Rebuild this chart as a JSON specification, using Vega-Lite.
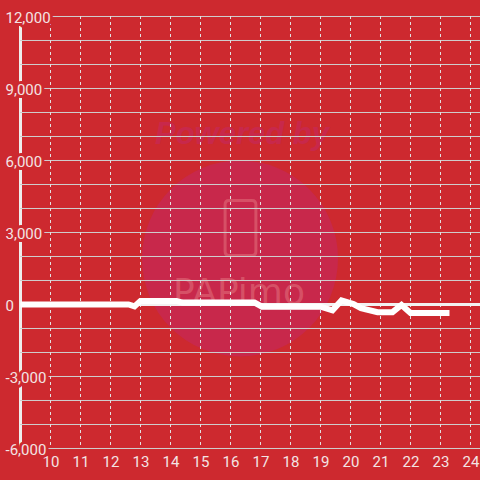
{
  "$schema": "https://vega.github.io/schema/vega-lite/v6.json",
  "width": 460,
  "height": 432,
  "autosize": {"type": "none"},
  "padding": {"left": 20, "top": 16, "right": 0, "bottom": 32},
  "background": "#CD292F",
  "config": {
    "view": {"stroke": null},
    "axis": {"grid": false, "ticks": false, "title": null},
    "axisX": {"domain": false, "labelFont": "Roboto", "labelFontSize": 15, "labelColor": "#F3E4E4", "labelPadding": 6, "labelFlush": false, "labelOverlap": false},
    "axisY": {"labels": false, "domain": true, "domainColor": "#EEEEEE", "domainWidth": 3}
  },
  "datasets": {
    "series": [
      {"h": 9.0, "v": 0},
      {"h": 12.6, "v": 0},
      {"h": 12.8, "v": -80},
      {"h": 13.0, "v": 150},
      {"h": 14.2, "v": 150},
      {"h": 14.4, "v": 80},
      {"h": 16.8, "v": 80},
      {"h": 17.05, "v": -90},
      {"h": 19.0, "v": -90},
      {"h": 19.4, "v": -240},
      {"h": 19.7, "v": 170},
      {"h": 20.1, "v": 20},
      {"h": 20.35, "v": -150},
      {"h": 20.9, "v": -320},
      {"h": 21.4, "v": -320},
      {"h": 21.7, "v": -20},
      {"h": 22.0, "v": -350},
      {"h": 23.3, "v": -350}
    ],
    "hgrid": [
      {"v": -6000}, {"v": -5000}, {"v": -4000}, {"v": -3000}, {"v": -2000}, {"v": -1000},
      {"v": 0}, {"v": 1000}, {"v": 2000}, {"v": 3000}, {"v": 4000}, {"v": 5000},
      {"v": 6000}, {"v": 7000}, {"v": 8000}, {"v": 9000}, {"v": 10000}, {"v": 11000}, {"v": 12000}
    ],
    "vgrid": [
      {"h": 10}, {"h": 11}, {"h": 12}, {"h": 13}, {"h": 14}, {"h": 15}, {"h": 16},
      {"h": 17}, {"h": 18}, {"h": 19}, {"h": 20}, {"h": 21}, {"h": 22}, {"h": 23}, {"h": 24}
    ],
    "ylabels": [
      {"v": 12000, "label": "12,000"},
      {"v": 9000, "label": "9,000"},
      {"v": 6000, "label": "6,000"},
      {"v": 3000, "label": "3,000"},
      {"v": 0, "label": "0"},
      {"v": -3000, "label": "-3,000"},
      {"v": -6000, "label": "-6,000"}
    ]
  },
  "layer": [
    {
      "data": {"values": [{"h": 16.317, "v": 1917}]},
      "mark": {"type": "point", "shape": "circle", "filled": true, "size": 38416, "color": "#C8284B", "opacity": 1},
      "encoding": {
        "x": {"field": "h", "type": "quantitative", "title": null, "axis": {"values": [10, 11, 12, 13, 14, 15, 16, 17, 18, 19, 20, 21, 22, 23, 24], "format": "d"}, "scale": {"domain": [8.9833, 24.3167], "nice": false, "zero": false}},
        "y": {"field": "v", "type": "quantitative", "title": null, "axis": {"values": [0]}, "scale": {"domain": [-5979.17, 12020.83], "nice": false, "zero": false}}
      }
    },
    {
      "data": {"values": [{"h": 16.383, "v": 6708, "t": "Powered by"}]},
      "mark": {"type": "text", "font": "Liberation Sans", "fontSize": 31, "fontWeight": "bold", "fontStyle": "italic", "align": "center", "baseline": "alphabetic", "color": "#C8284B"},
      "encoding": {
        "x": {"field": "h", "type": "quantitative", "title": null, "axis": {"values": [10, 11, 12, 13, 14, 15, 16, 17, 18, 19, 20, 21, 22, 23, 24], "format": "d"}, "scale": {"domain": [8.9833, 24.3167], "nice": false, "zero": false}},
        "y": {"field": "v", "type": "quantitative", "title": null, "axis": {"values": [0]}, "scale": {"domain": [-5979.17, 12020.83], "nice": false, "zero": false}},
        "text": {"field": "t"}
      }
    },
    {
      "data": {"values": [{"h": 16.333, "v": 3188}]},
      "mark": {"type": "point", "shape": "M-0.56,-0.85 Q-0.56,-1 -0.42,-1 L0.42,-1 Q0.56,-1 0.56,-0.85 L0.56,0.85 Q0.56,1 0.42,1 L-0.42,1 Q-0.56,1 -0.56,0.85 Z", "filled": false, "size": 3025, "stroke": "#D65066", "strokeWidth": 3, "opacity": 1},
      "encoding": {
        "x": {"field": "h", "type": "quantitative", "title": null, "axis": {"values": [10, 11, 12, 13, 14, 15, 16, 17, 18, 19, 20, 21, 22, 23, 24], "format": "d"}, "scale": {"domain": [8.9833, 24.3167], "nice": false, "zero": false}},
        "y": {"field": "v", "type": "quantitative", "title": null, "axis": {"values": [0]}, "scale": {"domain": [-5979.17, 12020.83], "nice": false, "zero": false}}
      }
    },
    {
      "data": {"values": [{"h": 16.28, "v": 40, "t": "PAPimo"}]},
      "mark": {"type": "text", "font": "DejaVu Sans", "fontSize": 36, "align": "center", "baseline": "alphabetic", "color": "#D65066"},
      "encoding": {
        "x": {"field": "h", "type": "quantitative", "title": null, "axis": {"values": [10, 11, 12, 13, 14, 15, 16, 17, 18, 19, 20, 21, 22, 23, 24], "format": "d"}, "scale": {"domain": [8.9833, 24.3167], "nice": false, "zero": false}},
        "y": {"field": "v", "type": "quantitative", "title": null, "axis": {"values": [0]}, "scale": {"domain": [-5979.17, 12020.83], "nice": false, "zero": false}},
        "text": {"field": "t"}
      }
    },
    {
      "data": {"name": "hgrid"},
      "mark": {"type": "rule", "color": "#CFCFCF", "strokeWidth": 1},
      "encoding": {
        "y": {"field": "v", "type": "quantitative", "title": null, "axis": {"values": [0]}, "scale": {"domain": [-5979.17, 12020.83], "nice": false, "zero": false}}
      }
    },
    {
      "data": {"name": "vgrid"},
      "mark": {"type": "rule", "color": "#E2E2E2", "strokeWidth": 1, "strokeDash": [3, 3]},
      "encoding": {
        "x": {"field": "h", "type": "quantitative", "title": null, "axis": {"values": [10, 11, 12, 13, 14, 15, 16, 17, 18, 19, 20, 21, 22, 23, 24], "format": "d"}, "scale": {"domain": [8.9833, 24.3167], "nice": false, "zero": false}}
      }
    },
    {
      "data": {"values": [{"v": 0}]},
      "mark": {"type": "rule", "color": "#F2F2F2", "strokeWidth": 3},
      "encoding": {
        "y": {"field": "v", "type": "quantitative", "title": null, "axis": {"values": [0]}, "scale": {"domain": [-5979.17, 12020.83], "nice": false, "zero": false}}
      }
    },
    {
      "data": {"name": "series"},
      "mark": {"type": "line", "color": "#FFFFFF", "strokeWidth": 6},
      "encoding": {
        "x": {"field": "h", "type": "quantitative", "title": null, "axis": {"values": [10, 11, 12, 13, 14, 15, 16, 17, 18, 19, 20, 21, 22, 23, 24], "format": "d"}, "scale": {"domain": [8.9833, 24.3167], "nice": false, "zero": false}},
        "y": {"field": "v", "type": "quantitative", "title": null, "axis": {"values": [0]}, "scale": {"domain": [-5979.17, 12020.83], "nice": false, "zero": false}}
      }
    },
    {
      "data": {"name": "ylabels"},
      "mark": {"type": "text", "font": "Roboto", "fontSize": 15, "align": "left", "baseline": "middle", "dy": 1.5, "color": "#CD292F", "stroke": "#CD292F", "strokeWidth": 6, "strokeJoin": "round"},
      "encoding": {
        "x": {"datum": 8.5, "type": "quantitative", "title": null, "axis": {"values": [10, 11, 12, 13, 14, 15, 16, 17, 18, 19, 20, 21, 22, 23, 24], "format": "d"}, "scale": {"domain": [8.9833, 24.3167], "nice": false, "zero": false}},
        "y": {"field": "v", "type": "quantitative", "title": null, "axis": {"values": [0]}, "scale": {"domain": [-5979.17, 12020.83], "nice": false, "zero": false}},
        "text": {"field": "label"}
      }
    },
    {
      "data": {"name": "ylabels"},
      "mark": {"type": "text", "font": "Roboto", "fontSize": 15, "align": "left", "baseline": "middle", "dy": 1.5, "color": "#F3E4E4"},
      "encoding": {
        "x": {"datum": 8.5, "type": "quantitative", "title": null, "axis": {"values": [10, 11, 12, 13, 14, 15, 16, 17, 18, 19, 20, 21, 22, 23, 24], "format": "d"}, "scale": {"domain": [8.9833, 24.3167], "nice": false, "zero": false}},
        "y": {"field": "v", "type": "quantitative", "title": null, "axis": {"values": [0]}, "scale": {"domain": [-5979.17, 12020.83], "nice": false, "zero": false}},
        "text": {"field": "label"}
      }
    }
  ]
}
